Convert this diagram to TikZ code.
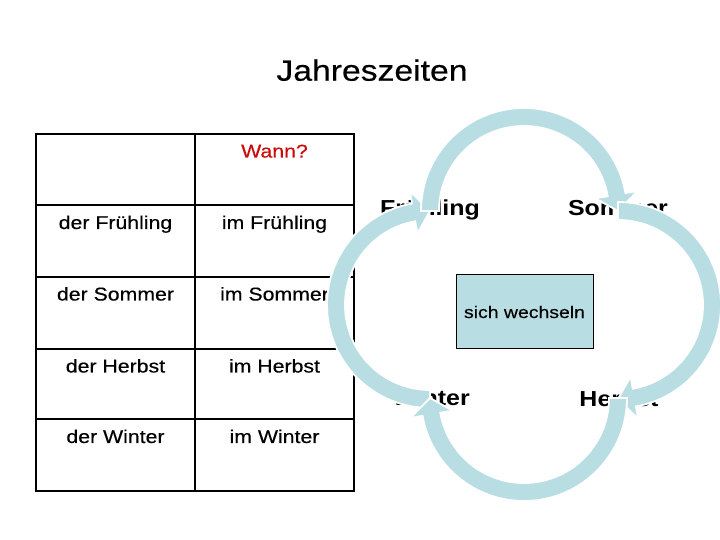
\documentclass[tikz,border=0pt]{standalone}
\usepackage{fontspec}
\setmainfont{Liberation Sans}[FakeStretch=1.15, UprightFeatures={FakeBold=0.4}]
\usetikzlibrary{calc}
\definecolor{ringblue}{RGB}{184,222,228}
\definecolor{wannred}{RGB}{205,10,10}
\tikzset{
  ringfill/.style={fill=ringblue, draw=white, line width=1.8pt, line join=miter},
  celltext/.style={anchor=base, font=\fontsize{18.5}{20}\selectfont},
  season/.style={anchor=base, font=\fontsize{21.7}{23}\selectfont\bfseries},
  outer/.style={line width=2.2pt},
  inner/.style={line width=2pt}
}
% center, tail angle, head base angle, tip angle
\newcommand\ringarrow[4]{%
  \path[ringfill] ($(#1)+(#2:103)$) arc[start angle=#2, end angle=#3, radius=103]
    -- ($(#1)+(#3:115.5)$) -- ($(#1)+(#4:94)$) -- ($(#1)+(#3:72.5)$)
    -- ($(#1)+(#3:85)$) arc[start angle=#3, end angle=#2, radius=85] -- cycle;}
\begin{document}
\begin{tikzpicture}[x=1pt,y=1pt]
\useasboundingbox (0,0) rectangle (720,540);
\fill[white] (0,0) rectangle (720,540);
% title
\node[anchor=base, font=\fontsize{29.3}{31}\selectfont] (title) at (372,459.3) {Jahreszeiten};
% table
\draw[inner] (195,406) -- (195,49);
\draw[inner] (36,334.5) -- (354,334.5);
\draw[inner] (36,263) -- (354,263);
\draw[inner] (36,191) -- (354,191);
\draw[inner] (36,120.5) -- (354,120.5);
\draw[outer] (36,406) rectangle (354,49);
\node[celltext, text=wannred] (wann) at (274.5,382.5) {Wann?};
\node[celltext] (n1) at (115.5,311) {der Frühling};
\node[celltext] (w1) at (274.5,311) {im Frühling};
\node[celltext] (n2) at (115.5,239.5) {der Sommer};
\node[celltext] (w2) at (274.5,239.5) {im Sommer};
\node[celltext] (n3) at (115.5,167.5) {der Herbst};
\node[celltext] (w3) at (274.5,167.5) {im Herbst};
\node[celltext] (n4) at (115.5,97) {der Winter};
\node[celltext] (w4) at (274.5,97) {im Winter};
% centre box
\node[draw, fill=ringblue, line width=1pt, minimum width=137pt, minimum height=74pt,
      inner sep=0pt, font=\fontsize{16.9}{18}\selectfont] (wechsel) at (524.5,228) {sich wechseln};
% season labels
\node[season] (fr) at (430,324) {Frühling};
\node[season] (so) at (618,324) {Sommer};
\node[season] (wi) at (431,134) {Winter};
\node[season] (he) at (619,133) {Herbst};
% ring centres
\coordinate (cleft) at (430,235);
\coordinate (ctop) at (524,329);
\coordinate (cright) at (618,235);
\coordinate (cbottom) at (524,142);
% cycle arrows
\ringarrow{cleft}{270}{100}{90}
\ringarrow{ctop}{180}{10}{0}
\ringarrow{cright}{90}{-80}{-90}
\ringarrow{cbottom}{0}{-170}{-180}
\end{tikzpicture}
\end{document}
